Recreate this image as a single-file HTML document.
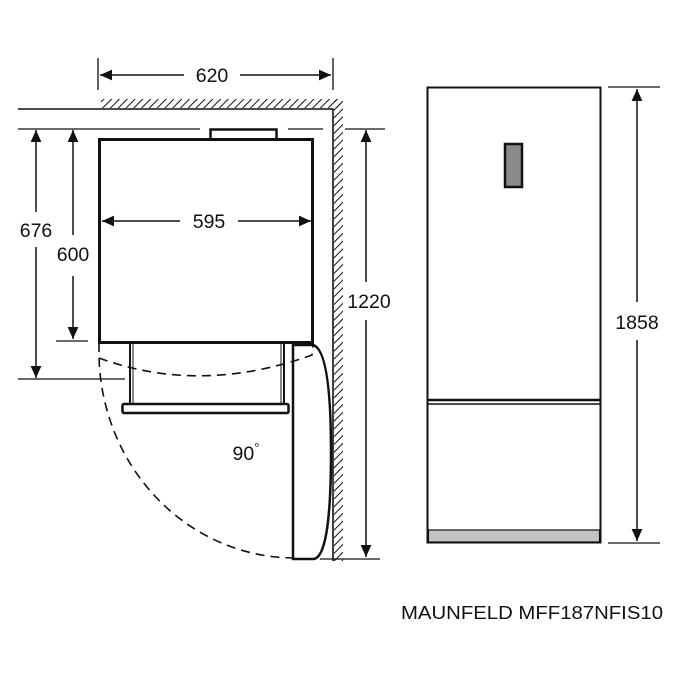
<!DOCTYPE html>
<html><head><meta charset="utf-8"><style>
html,body{margin:0;padding:0;background:#fff;}
svg{display:block}
text{font-family:"Liberation Sans",Arial,sans-serif;fill:#111}
</style></head><body>
<svg width="700" height="678" viewBox="0 0 700 678" xmlns="http://www.w3.org/2000/svg">
<defs>
<pattern id="h" width="5.5" height="5.5" patternUnits="userSpaceOnUse" patternTransform="rotate(45)">
<line x1="0" y1="0" x2="0" y2="5.5" stroke="#111" stroke-width="2"/>
</pattern>
<marker id="a" viewBox="0 0 10 10" refX="10" refY="5" markerWidth="13" markerHeight="12" markerUnits="userSpaceOnUse" orient="auto-start-reverse"><path d="M0,0.5 L10,5 L0,9.5z" fill="#111"/></marker>
</defs>
<g stroke="#111" fill="none">
<line x1="98" y1="58" x2="98" y2="90" stroke-width="1.3"/>
<line x1="333" y1="58" x2="333" y2="90" stroke-width="1.3"/>
<line x1="100" y1="75" x2="184" y2="75" stroke-width="1.5" marker-start="url(#a)"/>
<line x1="240" y1="75" x2="331" y2="75" stroke-width="1.5" marker-end="url(#a)"/>
<rect x="101" y="99" width="241" height="9" fill="url(#h)" stroke="none"/>
<rect x="334" y="99" width="9" height="462" fill="url(#h)" stroke="none"/>
<polyline points="18,109 333,109 333,561" stroke-width="1.6"/>
<line x1="18" y1="129" x2="200" y2="129" stroke-width="1.3"/>
<line x1="288" y1="129" x2="323" y2="129" stroke-width="1.3"/>
<line x1="345" y1="129" x2="385" y2="129" stroke-width="1.3"/>
<rect x="99.5" y="139.5" width="213" height="203" stroke-width="3"/>
<rect x="210.5" y="129.5" width="66" height="10" stroke-width="2.5"/>
<line x1="102" y1="221" x2="180" y2="221" stroke-width="1.5" marker-start="url(#a)"/>
<line x1="238" y1="221" x2="311" y2="221" stroke-width="1.5" marker-end="url(#a)"/>
<line x1="36" y1="130" x2="36" y2="212" stroke-width="1.5" marker-start="url(#a)"/>
<line x1="36" y1="247" x2="36" y2="378" stroke-width="1.5" marker-end="url(#a)"/>
<line x1="73" y1="130" x2="73" y2="235" stroke-width="1.5" marker-start="url(#a)"/>
<line x1="73" y1="276" x2="73" y2="339" stroke-width="1.5" marker-end="url(#a)"/>
<line x1="56" y1="341" x2="88" y2="341" stroke-width="1.3"/>
<line x1="18" y1="379" x2="125" y2="379" stroke-width="1.3"/>
<line x1="130" y1="343" x2="130" y2="404" stroke-width="2"/>
<line x1="133" y1="343" x2="133" y2="404" stroke-width="1"/>
<line x1="281" y1="343" x2="281" y2="404" stroke-width="1"/>
<line x1="284" y1="343" x2="284" y2="404" stroke-width="2"/>
<rect x="122.5" y="404" width="166" height="9" rx="1.5" stroke-width="2.5"/>
<path d="M293,559 L293,345 L313,345 Q331,350 331,452 Q331,559 313,559 Z" stroke-width="2.5"/>
<path d="M99,343 L99,352 A196 206 0 0 0 295,558" stroke-width="1.6" stroke-dasharray="9,6"/>
<path d="M99,358 Q200,395 312,355 L313,345" stroke-width="1.6" stroke-dasharray="9,6"/>
<line x1="366" y1="130" x2="366" y2="282" stroke-width="1.5" marker-start="url(#a)"/>
<line x1="366" y1="320" x2="366" y2="557" stroke-width="1.5" marker-end="url(#a)"/>
<line x1="320" y1="559" x2="380" y2="559" stroke-width="1.3"/>
<rect x="427.5" y="87.5" width="173" height="455" stroke-width="2"/>
<line x1="428" y1="400" x2="600" y2="400" stroke-width="2.5"/>
<line x1="428" y1="404" x2="600" y2="404" stroke-width="1.5"/>
<rect x="428.5" y="530" width="171" height="12" fill="#c4c4c4" stroke-width="1.2"/>
<rect x="505" y="144" width="17" height="43" fill="#8a8a8a" stroke-width="2.5"/>
<line x1="608" y1="87" x2="660" y2="87" stroke-width="1.3"/>
<line x1="608" y1="543" x2="660" y2="543" stroke-width="1.3"/>
<line x1="637" y1="89" x2="637" y2="302" stroke-width="1.5" marker-start="url(#a)"/>
<line x1="637" y1="340" x2="637" y2="541" stroke-width="1.5" marker-end="url(#a)"/>
</g>
<g font-size="19.5" text-anchor="middle">
<text x="212" y="82">620</text>
<text x="209" y="228">595</text>
<text x="36" y="237">676</text>
<text x="73" y="261">600</text>
<text x="369" y="308">1220</text>
<text x="637" y="329">1858</text>
<text x="246" y="460">90<tspan font-size="13" dy="-8">°</tspan></text>
</g>
<text x="401" y="619" font-size="18.5" textLength="262" lengthAdjust="spacingAndGlyphs">MAUNFELD MFF187NFIS10</text>
</svg>
</body></html>
